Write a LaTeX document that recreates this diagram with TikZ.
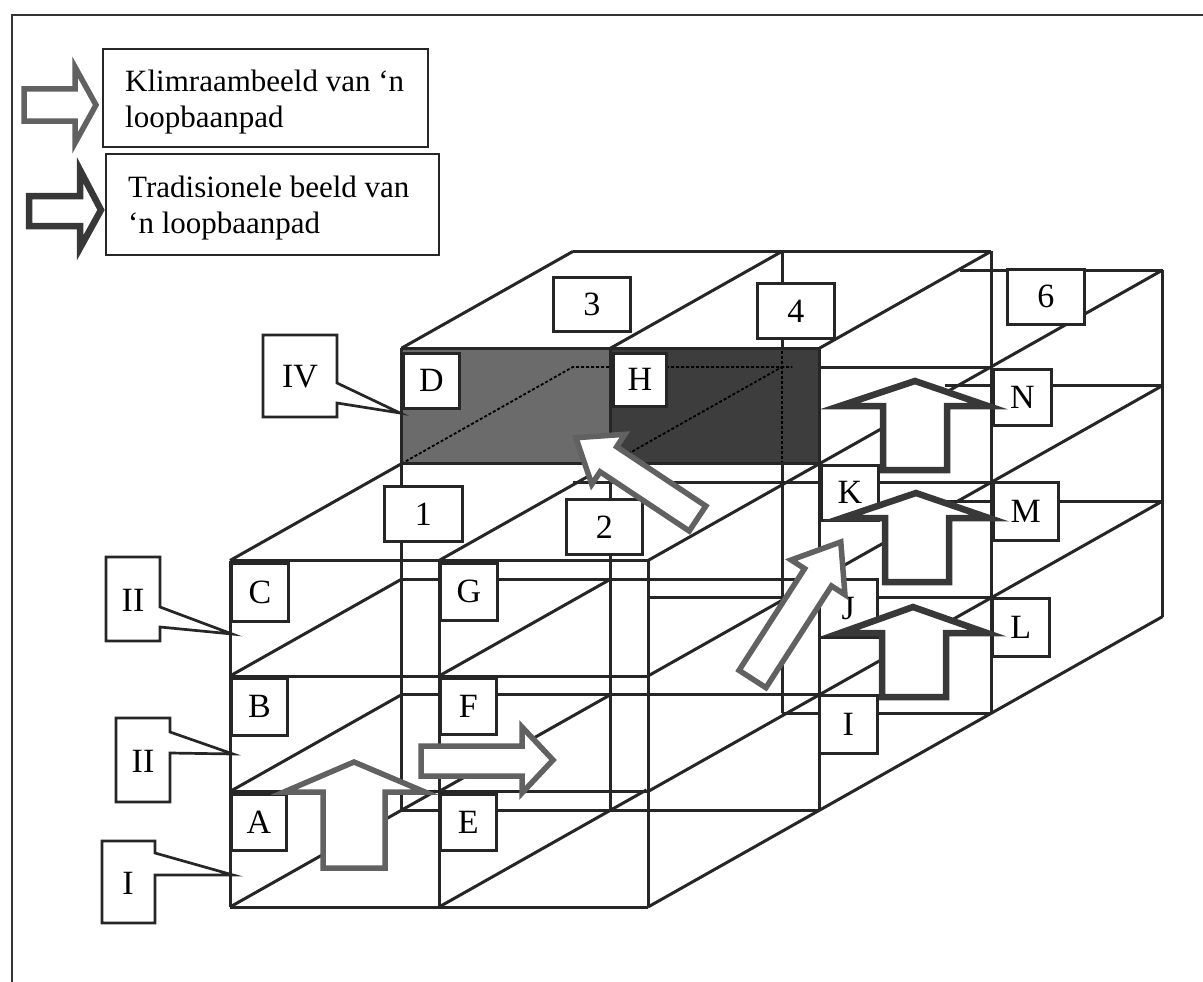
\documentclass[tikz,border=0pt]{standalone}
\usepackage{fontspec}
\setmainfont{Liberation Serif}
\begin{document}
\begin{tikzpicture}[x=1pt,y=-1pt,
  wire/.style={line width=3pt, draw=black!85},
  hid/.style={line width=1.8pt, draw=black, dash pattern=on 3pt off 2pt},
  lbl/.style={draw=black!85, line width=2.7pt, fill=white, anchor=north west, inner sep=0pt, font=\fontsize{34}{34}\selectfont},
  callout/.style={draw=black!85, line width=2.7pt, fill=white, line join=miter},
  roman/.style={inner sep=0pt, font=\fontsize{34}{34}\selectfont},
  climb/.style={draw=black!62, line width=5.5pt, fill=white, line join=miter},
  trad/.style={draw=black!78, line width=6.5pt, fill=white, line join=miter},
  legbox/.style={draw=black!85, line width=2.7pt, fill=white},
  txt/.style={anchor=base west, inner sep=0pt, font=\fontsize{31}{36}\selectfont}]

\useasboundingbox (0,0) rectangle (1203,982);
\fill[white] (0,0) rectangle (1203,982);

% frame
\draw[line width=2.5pt, black!80] (12,982) -- (12,15) -- (1203,15);

% ---------- legend ----------
\draw[legbox] (103,49) rectangle (428,147);
\node[txt] (leg1a) at (125,92) {Klimraambeeld van ‘n};
\node[txt] (leg1b) at (125,128) {loopbaanpad};
\draw[legbox] (106,154) rectangle (439,255);
\node[txt] (leg2a) at (128,197) {Tradisionele beeld van};
\node[txt] (leg2b) at (128,233) {‘n loopbaanpad};
\draw[climb] (24,89) -- (75,89) -- (75,67) -- (96,105) -- (75,143) -- (75,121) -- (24,121) -- cycle;
\draw[trad] (29,196) -- (80,196) -- (80,170) -- (101,210) -- (80,248) -- (80,226) -- (29,226) -- cycle;

% ---------- 3D wire frame ----------
\begin{scope}[shift={(230pt,-907pt)}, x={(209pt,0pt)}, y={(0pt,115.5pt)}, z={(171.5pt,96.8pt)}]
  % shaded front face of upper block
  \fill[black!58] (0,3,1) -- (1,3,1) -- (1,4,1) -- (0,4,1) -- cycle;
  \fill[black!76] (1,3,1) -- (2,3,1) -- (2,4,1) -- (1,4,1) -- cycle;
  % hidden lines seen through the shading
  \draw[hid] (0,3,1) -- (0,3,2) -- (1.05,3,2);
  \draw[hid] (1.25,3,2) -- (2,3,2);
  \draw[hid] (1,3,1) -- (1,3,2);
  \draw[hid] (1,2.16,2) -- (1,3.16,2);
  % front face
  \foreach \yy in {0,1,2,3} \draw[wire] (0,\yy,0) -- (2,\yy,0);
  \foreach \xx in {0,1,2} \draw[wire] (\xx,0,0) -- (\xx,3,0);
  % depth lines of the first two columns
  \foreach \yy in {1,2,3} \draw[wire] (0,\yy,0) -- (0,\yy,1);
  \draw[wire] (0,0,0) -- (0,0,1.2);
  \foreach \yy in {1,2,3} \draw[wire] (1,\yy,0) -- (1,\yy,1);
  \draw[wire] (1,0,0) -- (1,0,1.21);
  % depth lines of the right side
  \foreach \yy in {0,1,2,3} \draw[wire] (2,\yy,0) -- (2,\yy,3);
  % plane z=1
  \foreach \yy in {0,1,2,3,4} \draw[wire] (0,\yy,1) -- (2,\yy,1);
  \foreach \xx in {0,1,2} \draw[wire] (\xx,0,1) -- (\xx,4,1);
  % top of upper block
  \foreach \xx in {0,1,2} \draw[wire] (\xx,4,1) -- (\xx,4,2);
  \draw[wire] (0,4,2) -- (2,4,2);
  % plane z=2
  \draw[wire] (2,0,2) -- (2,4,2);
  \draw[wire] (1,0,2) -- (1,2.16,2);
  \draw[wire] (1,3.16,2) -- (1,4,2);
  \draw[wire] (0,2,2) -- (2,2,2);
  \draw[wire] (0.36,1,2) -- (2,1,2);
  \draw[wire] (1,0,2) -- (2,0,2);
  % plane z=3
  \draw[wire] (2,0,3) -- (2,3,3);
  \draw[wire] (1.03,3,3) -- (2,3,3);
  \draw[wire] (0.96,2,3) -- (2,2,3);
  \draw[wire] (0.97,1,3) -- (2,1,3);
\end{scope}
% visible part of back edge right of the shading
\draw[wire] (820,367) -- (992,367);

% ---------- column numbers ----------
\node[lbl, minimum width=78pt, minimum height=55pt] (n1) at (383,485) {1};
\node[lbl, minimum width=76pt, minimum height=55pt] (n2) at (565,498) {2};
\node[lbl, minimum width=77pt, minimum height=54pt] (n3) at (552,276) {3};
\node[lbl, minimum width=77pt, minimum height=55pt] (n4) at (756,282) {4};
\node[lbl, minimum width=77pt, minimum height=55pt] (n6) at (1006,268) {6};

% ---------- cell letters ----------
\node[lbl, minimum width=57pt, minimum height=58pt] (C) at (230,562) {C};
\node[lbl, minimum width=56pt, minimum height=57pt] (B) at (230,677) {B};
\node[lbl, minimum width=55pt, minimum height=56pt] (A) at (230,793) {A};
\node[lbl, minimum width=57pt, minimum height=57pt] (G) at (439,562) {G};
\node[lbl, minimum width=56pt, minimum height=56pt] (F) at (439,677) {F};
\node[lbl, minimum width=56pt, minimum height=56pt] (E) at (439,793) {E};
\node[lbl, minimum width=56pt, minimum height=55pt] (D) at (402,352) {D};
\node[lbl, minimum width=53pt, minimum height=53pt] (H) at (612,352) {H};
\node[lbl, minimum width=57pt, minimum height=55pt] (K) at (820,464) {K};
\node[lbl, minimum width=58pt, minimum height=58pt] (J) at (818,578) {J};
\node[lbl, minimum width=58pt, minimum height=58pt] (Ir) at (818,694) {I};
\node[lbl, minimum width=58pt, minimum height=56pt] (N) at (992,368) {N};
\node[lbl, minimum width=65pt, minimum height=58pt] (M) at (992,481) {M};
\node[lbl, minimum width=57pt, minimum height=58pt] (L) at (991,597) {L};

% ---------- level callouts ----------
\draw[callout] (263,335) -- (337,335) -- (337,383) -- (400,413) -- (337,403) -- (337,417) -- (263,417) -- cycle;
\node[roman] (lIV) at (300,377) {IV};
\draw[callout] (106,557) -- (160,557) -- (160,607) -- (232,634) -- (160,627) -- (160,641) -- (106,641) -- cycle;
\node[roman] (lIIa) at (133,600) {II};
\draw[callout] (116,718) -- (170,718) -- (170,732) -- (233,754) -- (170,753) -- (170,802) -- (116,802) -- cycle;
\node[roman] (lIIb) at (143,761) {II};
\draw[callout] (102,841) -- (155,841) -- (155,853) -- (233,875) -- (155,875) -- (155,923) -- (102,923) -- cycle;
\node[roman] (lI) at (128,883) {I};

% ---------- career path arrows ----------
\draw[climb] (323,868) -- (385,868) -- (385,792) -- (425,792) -- (354,762) -- (284,792) -- (323,792) -- cycle;
\draw[climb] (421,746) -- (522,746) -- (522,727) -- (553,760) -- (522,793) -- (522,776) -- (421,776) -- cycle;
\begin{scope}[shift={(752.5,679)}, rotate=57.2]
  \draw[climb] (0,-16) -- (121,-16) -- (121,-32) -- (163,0) -- (121,32) -- (121,16) -- (0,16) -- cycle;
\end{scope}
\begin{scope}[shift={(697.5,518.5)}, rotate=146.4]
  \draw[climb] (0,-15) -- (107,-15) -- (107,-30) -- (146,0) -- (107,30) -- (107,15) -- (0,15) -- cycle;
\end{scope}
\draw[trad] (883,470) -- (883,406) -- (840,406) -- (915,381) -- (988,406) -- (947,406) -- (947,470) -- cycle;
\draw[trad] (885,582) -- (885,518) -- (842,518) -- (916,493) -- (989,518) -- (949,518) -- (949,582) -- cycle;
\draw[trad] (882,697) -- (882,633) -- (840,633) -- (913,607) -- (987,633) -- (946,633) -- (946,697) -- cycle;
\end{tikzpicture}
\end{document}
